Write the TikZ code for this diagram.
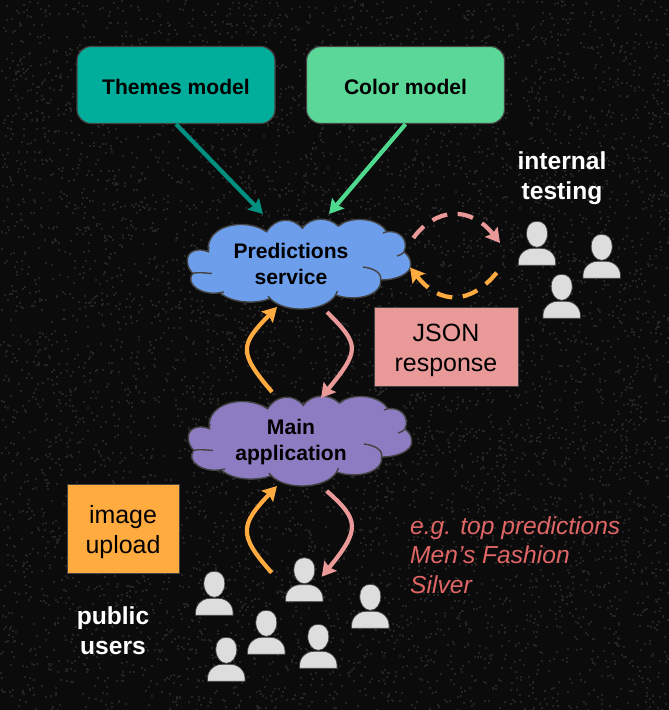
\documentclass[tikz,border=0pt]{standalone}
\usepackage{fontspec}
\setmainfont{Liberation Sans}
\usetikzlibrary{arrows.meta}
\definecolor{bgdark}{HTML}{0B0B0B}
\definecolor{speck}{HTML}{242424}
\definecolor{tealbox}{HTML}{00AE9B}
\definecolor{tealline}{HTML}{008F80}
\definecolor{greenbox}{HTML}{5BD897}
\definecolor{greenline}{HTML}{4FD98F}
\definecolor{cloudblue}{HTML}{6D9EEB}
\definecolor{cloudpurple}{HTML}{8E7CC3}
\definecolor{orangeline}{HTML}{FFAB40}
\definecolor{pinkline}{HTML}{EA9999}
\definecolor{noteline}{HTML}{E06666}
\definecolor{edgegray}{HTML}{434343}
\definecolor{personfill}{HTML}{DDDDDD}
\newcommand{\pxunit}{*0.02cm}
\tikzset{
	modelbox/.style={draw=edgegray, line width=0.7pt, rounded corners=8pt, minimum width=198\pxunit, minimum height=77\pxunit, font=\fontsize{12}{15}\selectfont\bfseries, text=black},
	notebox/.style={draw=edgegray, line width=0.5pt, font=\fontsize{14.2}{17}\selectfont, text=black, align=center},
	cloudtext/.style={font=\fontsize{12}{14.7}\selectfont\bfseries, text=black, align=center},
	whitetext/.style={font=\fontsize{14}{17}\selectfont\bfseries, text=white, align=center},
	notetext/.style={font=\fontsize{14}{16.8}\selectfont\itshape, text=noteline, align=left},
	link/.style={line width=2.4pt, -{Stealth[length=8pt, width=9pt, inset=1.2pt]}},
	loopdash/.style={link, dash pattern=on 9pt off 6pt},
	cloudedge/.style={draw=edgegray, line width=0.8pt},
	pics/person/.style={code={
		\draw[fill=personfill, draw=edgegray, line width=0.4pt] (-18.7, 31) -- (-18.7, 28) .. controls (-18.7, 20) and (-12, 14) .. (-4, 14) -- (4, 14) .. controls (12, 14) and (18.7, 20) .. (18.7, 28) -- (18.7, 31) -- cycle;
		\draw[fill=personfill, draw=edgegray, line width=0.4pt] (0, -13) .. controls (7, -13) and (10.5, -8) .. (10.5, -1) .. controls (10.5, 7) and (6, 13) .. (0, 13) .. controls (-6, 13) and (-10.5, 7) .. (-10.5, -1) .. controls (-10.5, -8) and (-7, -13) .. (0, -13) -- cycle;
	}}
}
\def\lowered#1{\rule{0pt}{#1}}
\def\drawcloud#1#2{
	\begin{scope}[shift={(#1)}]
		\draw[fill=#2, cloudedge] (208.3, 251.7) .. controls (197, 247) and (187, 252) .. (187.3, 260) .. controls (187, 266) and (190, 271) .. (193, 273.3) .. controls (184, 284) and (202, 296) .. (220, 292.7) .. controls (232, 304) and (258, 304) .. (270, 298.5) .. controls (285, 314) and (325, 312) .. (335.7, 295) .. controls (355, 302) and (382, 296) .. (380.7, 280) .. controls (398, 280) and (411, 273) .. (410.7, 265) .. controls (411, 259) and (408, 255) .. (404, 252) .. controls (409, 240) and (400, 230) .. (386.7, 231.7) .. controls (378, 217) and (350, 216) .. (338.3, 226) .. controls (328, 216) and (310, 217) .. (302.3, 228.3) .. controls (292, 216) and (275, 218) .. (266.7, 231.7) .. controls (245, 217) and (205, 225) .. (208.3, 251.7) -- cycle;
		\draw[cloudedge] (193, 273.3) .. controls (198, 272) and (205, 273) .. (212, 273.5);
		\draw[cloudedge] (363, 267) .. controls (372, 268) and (382, 272) .. (380.7, 280);
		\draw[cloudedge] (397, 256) .. controls (400, 255.5) and (402, 254) .. (404, 252);
		\draw[cloudedge] (220, 292.7) -- (224, 292);
		\draw[cloudedge] (270, 298.5) -- (268, 296);
		\draw[cloudedge] (335.7, 295) -- (337.5, 291);
		\draw[cloudedge] (386.7, 231.7) -- (383, 233);
		\draw[cloudedge] (338.3, 226) -- (342, 224);
		\draw[cloudedge] (302.3, 228.3) -- (303, 225);
		\draw[cloudedge] (266.7, 231.7) -- (262, 229);
		\draw[cloudedge] (208.3, 251.7) -- (209, 247);
	\end{scope}
}

\begin{document}
\begin{tikzpicture}[x=0.02cm, y=-0.02cm]
			%%%%% START %%%%%
			
			\useasboundingbox (0, 0) rectangle (669, 710);
			\fill[bgdark] (0, 0) rectangle (669, 710);
			
			% grain of the backdrop
			\pgfmathsetseed{4711}
			\foreach \i in {1,...,7000} {
				\pgfmathsetmacro{\gx}{rnd*669}
				\pgfmathsetmacro{\gy}{rnd*710}
				\fill[speck] (\gx, \gy) rectangle ++(2, 2);
			}
			
			\node[modelbox, fill=tealbox] (themes) at (176, 85) {\lowered{10.5pt}Themes model};
			\node[modelbox, fill=greenbox] (color) at (405.5, 85) {\lowered{10.5pt}Color model};
			
			\drawcloud{0, 0}{cloudblue}
			\drawcloud{1, 177}{cloudpurple}
			\node[cloudtext] (predictions) at (291, 264) {Predictions\\service};
			\node[cloudtext] (application) at (291, 442) {Main\\application};
			
			\coordinate (predThemes) at (263, 214);
			\coordinate (predColor) at (329, 214);
			\coordinate (predUp) at (277, 307);
			\coordinate (predDown) at (327, 312);
			\coordinate (predLoopOut) at (413.3, 238);
			\coordinate (predLoopIn) at (410, 267.5);
			\coordinate (testersIn) at (500, 243);
			\coordinate (testersOut) at (496.7, 272.7);
			\coordinate (appTopOut) at (272, 392);
			\coordinate (appTopIn) at (321, 398);
			\coordinate (appUp) at (277, 486);
			\coordinate (appDown) at (326.7, 491);
			\coordinate (usersOut) at (271.7, 572.7);
			\coordinate (usersIn) at (321.7, 576.7);
			
			\draw[link, tealline] (themes.south) -- (predThemes);
			\draw[link, greenline] (color.south) -- (predColor);
			
			\draw[link, orangeline] (appTopOut) .. controls (238, 352) and (240, 345) .. (predUp);
			\draw[link, pinkline] (predDown) .. controls (360, 345) and (360, 350) .. (appTopIn);
			\draw[link, orangeline] (usersOut) .. controls (238, 535) and (240, 525) .. (appUp);
			\draw[link, pinkline] (appDown) .. controls (360, 520) and (360, 530) .. (usersIn);
			
			\draw[loopdash, pinkline] (predLoopOut) .. controls (435, 208) and (470, 205) .. (testersIn);
			\draw[loopdash, orangeline] (testersOut) .. controls (470, 305) and (440, 305) .. (predLoopIn);
			
			\node[notebox, fill=pinkline, minimum width=144\pxunit, minimum height=79\pxunit] (json) at (446, 346.5) {\lowered{14pt}JSON\\response};
			\node[notebox, fill=orangeline, minimum width=112\pxunit, minimum height=89\pxunit] (upload) at (123, 528.5) {\lowered{14pt}image\\upload};
			
			\node[whitetext] (testing) at (562, 178) {internal\\testing};
			\node[whitetext] (public) at (113, 631) {public\\users};
			\node[notetext, anchor=west] (topPreds) at (404, 555) {e.g. top predictions\\Men’s Fashion\\Silver};
			
			\pic at (537, 234.3) {person};
			\pic at (601.7, 247.3) {person};
			\pic at (561.7, 287.3) {person};
			
			\pic at (304.3, 570.7) {person};
			\pic at (214.3, 584.3) {person};
			\pic at (370.3, 597.3) {person};
			\pic at (266.3, 623.3) {person};
			\pic at (318.3, 637.3) {person};
			\pic at (226.3, 650.3) {person};
			
			%%%%% END %%%%%
\end{tikzpicture}
\end{document}
